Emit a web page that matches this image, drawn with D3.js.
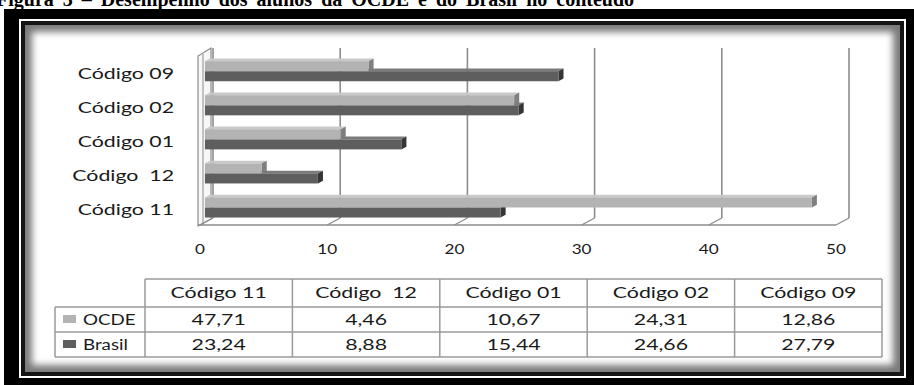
<!DOCTYPE html>
<html>
<head>
<meta charset="utf-8">
<script src="https://cdn.jsdelivr.net/npm/d3@7"></script>
<style>
  html, body { margin: 0; padding: 0; background: #fff; }
  svg { display: block; }
  text { white-space: pre; }
</style>
</head>
<body>
<svg id="chart" width="914" height="385"></svg>
<script>
// Categories as listed in the data table (left to right)
const categories = ["Código 11", "Código  12", "Código 01", "Código 02", "Código 09"];
// Order of the bars from top to bottom
const barOrder = ["Código 09", "Código 02", "Código 01", "Código  12", "Código 11"];
const seriesNames = ["OCDE", "Brasil"];
const ocdeValues = [47.71, 4.46, 10.67, 24.31, 12.86];
const brasilValues = [23.24, 8.88, 15.44, 24.66, 27.79];
const xTicks = [0, 10, 20, 30, 40, 50];
const titleText = "Figura 3 – Desempenho dos alunos da OCDE e do Brasil no conteúdo";

const series = [
  { name: seriesNames[0], values: ocdeValues, front: "#b3b3b3", top: "#c9c9c9", side: "#7f7f7f" },
  { name: seriesNames[1], values: brasilValues, front: "#5e5e5e", top: "#7a7a7a", side: "#353535" }
];

const svg = d3.select("#chart");
const FONT = "Lato, 'Open Sans', sans-serif";
const SX = 1.42;      // horizontal stretch of the label type
const AX_SX = 1.32;
const LEG_SX = 1.25;

// caption running above the frame
svg.append("text")
  .attr("x", -4).attr("y", 6)
  .attr("font-family", "'Liberation Serif', serif")
  .attr("font-weight", "bold")
  .attr("font-size", 20)
  .attr("word-spacing", 4)
  .attr("fill", "#000")
  .text(titleText);

// frame: black band, white gap, dark rule, panel with inner shadow
const defs = svg.append("defs");
defs.append("filter").attr("id", "soft").attr("x", "-10%").attr("y", "-10%").attr("width", "120%").attr("height", "120%")
  .append("feGaussianBlur").attr("stdDeviation", 3.5);
defs.append("clipPath").attr("id", "panelClip")
  .append("rect").attr("x", 25).attr("y", 25).attr("width", 875).attr("height", 347);

svg.append("rect").attr("x", 4).attr("y", 9).attr("width", 910).attr("height", 376).attr("fill", "#000");
svg.append("rect").attr("x", 19).attr("y", 19).attr("width", 887).attr("height", 359).attr("fill", "#fff");
svg.append("rect").attr("x", 21).attr("y", 21).attr("width", 883).attr("height", 355).attr("fill", "#151515");
const panel = svg.append("g").attr("clip-path", "url(#panelClip)");
panel.append("rect").attr("x", 25).attr("y", 25).attr("width", 875).attr("height", 347).attr("fill", "#7a7a7a");
panel.append("rect").attr("x", 32).attr("y", 32).attr("width", 861).attr("height", 333).attr("fill", "#fff")
  .attr("filter", "url(#soft)");

// 3D chart geometry: front-plane scales plus a depth vector
const x = d3.scaleLinear().domain([0, 50]).range([200, 836]);
const y = d3.scaleBand().domain(barOrder).range([57, 227]).paddingInner(0.41).paddingOuter(0.2);
const sub = d3.scaleBand().domain(seriesNames).range([0, y.bandwidth()]);
const depth = { dx: 13, dy: -7 };
const barF = 0.38, barB = 0.77;
const P = (xv, yv, f) => [xv + depth.dx * f, yv + depth.dy * f];

const gridColor = "#8c8c8c";
const yTop = 56, yBottom = 225;

const chart = svg.append("g");

// left wall
const wall = chart.append("g");
wall.append("path")
  .attr("d", d3.line()([[198, yTop], [198, yBottom + 1], P(198, yBottom + 1, 1), P(198, yTop - 1, 1)]) + "Z")
  .attr("fill", "#f7f7f7").attr("stroke", gridColor).attr("stroke-width", 1.2);
wall.append("line")
  .attr("x1", 203).attr("y1", yTop - 2).attr("x2", 203).attr("y2", yBottom)
  .attr("stroke", gridColor).attr("stroke-width", 1);

// back-wall gridlines with their floor returns
const grid = chart.append("g");
xTicks.forEach(t => {
  const [bx, by] = P(x(t), yBottom, 1);
  const [, ty] = P(x(t), yTop, 1);
  grid.append("line")
    .attr("x1", bx).attr("y1", ty - 1).attr("x2", bx).attr("y2", by)
    .attr("stroke", gridColor).attr("stroke-width", 1.6);
  grid.append("line")
    .attr("x1", bx).attr("y1", by).attr("x2", x(t)).attr("y2", yBottom)
    .attr("stroke", gridColor).attr("stroke-width", 1.3);
});
// front edge of the floor
grid.append("line")
  .attr("x1", 198).attr("y1", yBottom).attr("x2", x(50)).attr("y2", yBottom)
  .attr("stroke", gridColor).attr("stroke-width", 1.3);

// bars: lower series first so the upper bar's face covers its top
const bars = chart.append("g");
barOrder.forEach(cat => {
  const ci = categories.indexOf(cat);
  [series[1], series[0]].forEach(s => {
    const v = s.values[ci];
    const y0 = y(cat) + sub(s.name);
    const h = sub.bandwidth();
    const a = P(x(0), y0, barF), b = P(x(v), y0, barF);
    const c = P(x(v), y0, barB), d = P(x(0), y0, barB);
    const e = P(x(v), y0 + h, barF), f = P(x(v), y0 + h, barB);
    bars.append("path").attr("d", d3.line()([a, b, c, d]) + "Z").attr("fill", s.top);
    bars.append("path").attr("d", d3.line()([b, c, f, e]) + "Z").attr("fill", s.side);
    bars.append("rect")
      .attr("x", a[0]).attr("y", a[1])
      .attr("width", b[0] - a[0]).attr("height", h)
      .attr("fill", s.front);
  });
});

// category labels
chart.append("g").selectAll("text").data(barOrder).join("text")
  .attr("transform", d => `translate(174,${y(d) + y.bandwidth() / 2 + 5}) scale(${SX},1)`)
  .attr("text-anchor", "end")
  .attr("font-family", FONT).attr("font-size", 15).attr("fill", "#1a1a1a")
  .text(d => d);

// value axis labels
chart.append("g").selectAll("text").data(xTicks).join("text")
  .attr("transform", d => `translate(${x(d)},254) scale(${AX_SX},1)`)
  .attr("text-anchor", "middle")
  .attr("font-family", FONT).attr("font-size", 13).attr("fill", "#1a1a1a")
  .text(d => d);

// data table
const fmt = d3.formatLocale({ decimal: ",", thousands: ".", grouping: [3], currency: ["", ""] }).format(".2f");
const colX = d3.scaleBand().domain(categories).range([145, 882]);
const tableLeft = 55;
const rows = { header: [279, 307], r0: [307, 332], r1: [332, 357] };
const tbl = svg.append("g");
const lineColor = "#9a9a9a";
const hl = (x1, x2, yy) => tbl.append("line").attr("x1", x1).attr("x2", x2).attr("y1", yy).attr("y2", yy)
  .attr("stroke", lineColor).attr("stroke-width", 1.5);
const vl = (xx, y1, y2) => tbl.append("line").attr("x1", xx).attr("x2", xx).attr("y1", y1).attr("y2", y2)
  .attr("stroke", lineColor).attr("stroke-width", 1.5);
hl(145, 882, rows.header[0]);
hl(tableLeft, 882, rows.r0[0]);
hl(tableLeft, 882, rows.r1[0]);
hl(tableLeft, 882, rows.r1[1]);
vl(tableLeft, rows.r0[0], rows.r1[1]);
categories.forEach(c => vl(colX(c), rows.header[0], rows.r1[1]));
vl(882, rows.header[0], rows.r1[1]);

tbl.selectAll("text.hdr").data(categories).join("text").attr("class", "hdr")
  .attr("transform", d => `translate(${colX(d) + colX.bandwidth() / 2},${(rows.header[0] + rows.header[1]) / 2 + 5}) scale(${SX},1)`)
  .attr("text-anchor", "middle")
  .attr("font-family", FONT).attr("font-size", 15).attr("fill", "#1a1a1a")
  .text(d => d);

series.forEach((s, si) => {
  const r = si === 0 ? rows.r0 : rows.r1;
  const cy = (r[0] + r[1]) / 2;
  tbl.append("rect").attr("x", 63).attr("y", cy - 4.5).attr("width", 13).attr("height", 8).attr("fill", s.front);
  tbl.append("text")
    .attr("transform", `translate(83,${cy + 5}) scale(${LEG_SX},1)`)
    .attr("font-family", FONT).attr("font-size", 15).attr("fill", "#1a1a1a")
    .text(s.name);
  tbl.selectAll(`text.v${si}`).data(categories).join("text").attr("class", `v${si}`)
    .attr("transform", (d) => `translate(${colX(d) + colX.bandwidth() / 2},${cy + 5}) scale(${SX},1)`)
    .attr("text-anchor", "middle")
    .attr("font-family", FONT).attr("font-size", 15).attr("fill", "#1a1a1a")
    .text((d, i) => fmt(s.values[i]));
});
</script>
</body>
</html>
